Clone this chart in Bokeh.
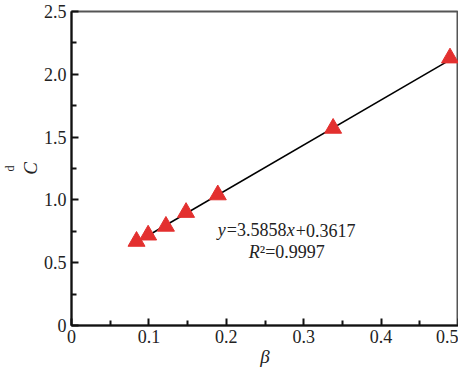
from bokeh.plotting import figure
from bokeh.models import Label, FixedTicker, Range1d, Title
from bokeh.embed import file_html
from bokeh.resources import INLINE

# data
beta = [0.084, 0.099, 0.122, 0.148, 0.189, 0.338, 0.489]
cd = [0.67, 0.72, 0.79, 0.90, 1.04, 1.57, 2.13]
slope = 3.5858
intercept = 0.3617
x_ticks = [0, 0.1, 0.2, 0.3, 0.4, 0.5]
x_tick_labels = ["0", "0.1", "0.2", "0.3", "0.4", "0.5"]
y_ticks = [0, 0.5, 1.0, 1.5, 2.0, 2.5]
y_tick_labels = ["0", "0.5", "1.0", "1.5", "2.0", "2.5"]

FONT = "Liberation Serif"

p = figure(width=458, height=369, output_backend="svg", toolbar_location=None,
           x_range=Range1d(0, 0.5), y_range=Range1d(0, 2.5),
           min_border_left=10, min_border_right=0, min_border_top=11, min_border_bottom=10)
p.grid.visible = False
p.outline_line_color = "#555555"
p.outline_line_width = 2
p.background_fill_color = "white"
p.border_fill_color = "white"

for ax, ticks, labels in ((p.xaxis[0], x_ticks, x_tick_labels), (p.yaxis[0], y_ticks, y_tick_labels)):
    step = ticks[1] - ticks[0]
    ax.ticker = FixedTicker(ticks=ticks, minor_ticks=[t + step / 2 for t in ticks[:-1]])
    ax.major_label_overrides = {t: l for t, l in zip(ticks, labels)}
    ax.axis_line_color = "#111111"
    ax.axis_line_width = 2
    ax.major_tick_line_color = "#111111"
    ax.major_tick_line_width = 2
    ax.minor_tick_line_color = "#111111"
    ax.minor_tick_line_width = 2
    ax.major_tick_in = 7
    ax.major_tick_out = 0
    ax.minor_tick_in = 5
    ax.minor_tick_out = 0
    ax.major_label_text_font = FONT
    ax.major_label_text_font_size = "18px"
    ax.major_label_text_color = "#222222"
    ax.axis_label_text_font = FONT
    ax.axis_label_text_font_size = "19px"
    ax.axis_label_text_font_style = "italic"
    ax.axis_label_text_color = "#222222"
    ax.axis_label_standoff = 0
p.xaxis.major_label_standoff = 4
p.yaxis.major_label_standoff = 5
p.xaxis.axis_label = "\u03b2"
p.yaxis.axis_label = "C"

# subscript of the y title
p.add_layout(Title(text="d", text_font=FONT, text_font_size="12px", text_font_style="normal",
                   text_color="#222222", align="center", offset=9, standoff=0), "left")

# fit line across the data span
x0, x1 = beta[0], beta[-1]
p.line([x0, x1], [slope * x0 + intercept, slope * x1 + intercept], line_color="black", line_width=1.6)
p.scatter(beta, cd, marker="triangle", size=17, fill_color="#e3302f", line_color="#e3302f")

def lab(x, y, text, italic=False, size="18px", xoff=0):
    p.add_layout(Label(x=x, y=y, text=text, x_offset=xoff,
                       text_font=FONT, text_font_size=size, text_color="#222222",
                       text_font_style="italic" if italic else "normal",
                       text_align="left", text_baseline="middle"))

# equation
ex, ey = 0.189, 0.76
lab(ex, ey, "y", italic=True)
lab(ex, ey, "=3.5858", xoff=9)
lab(ex, ey, "x", italic=True, xoff=69)
lab(ex, ey, "+0.3617", xoff=78)
rx, ry = 0.229, 0.585
lab(rx, ry, "R", italic=True)
lab(rx, ry, "\u00b2=0.9997", xoff=11)

open("out.html", "w").write(file_html(p, INLINE))
